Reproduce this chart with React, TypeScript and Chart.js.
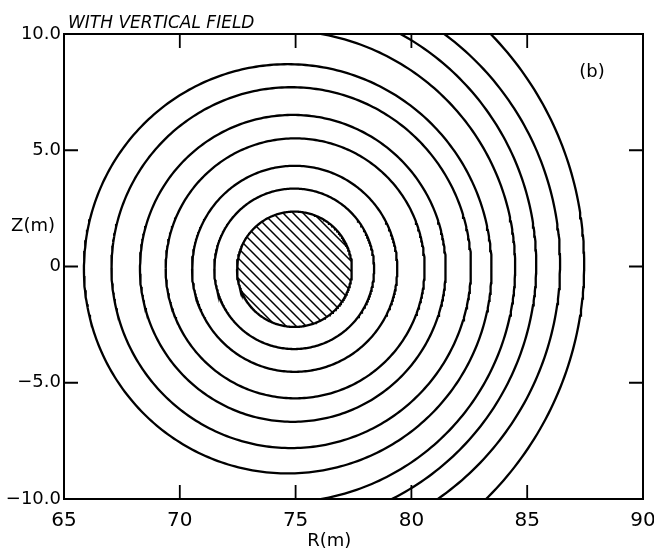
import React, { useEffect, useRef } from "react";
import { Chart, registerables } from "chart.js";

Chart.register(...registerables);

// ---- axis ticks ----
const xTickValues = [65, 70, 75, 80, 85, 90];
const xTickLabels = ["65", "70", "75", "80", "85", "90"];
const yTickValues = [-10, -5, 0, 5, 10];
const yTickLabels = ["\u221210.0", "\u22125.0", "0", "5.0", "10.0"];

// ---- conductor (hatched) ----
const conductorCenterR = 74.95;
const conductorCenterZ = -0.12;
const conductorRadius = 2.48;

// ---- flux contours: centre R, centre Z, radius, half-span of the drawn arc (deg) ----
const contourCenterR = [74.94, 74.96, 74.98, 74.88, 74.81, 74.66, 74.32, 74.09, 74.12, 73.3];
const contourCenterZ = [-0.1, -0.1, -0.08, -0.08, -0.05, -0.1, 0.0, 0.1, 0.1, 0.1];
const contourRadius = [3.45, 4.43, 5.59, 6.6, 7.76, 8.8, 10.16, 11.3, 12.3, 14.16];
const contourHalfSpan = [180, 180, 180, 180, 180, 180, 93, 95, 95, 95];

function arcPoints(cr: number, cz: number, r: number, halfSpanDeg: number) {
  const pts: { x: number; y: number }[] = [];
  const step = 1;
  for (let a = -halfSpanDeg; a <= halfSpanDeg + 1e-9; a += step) {
    const t = (a * Math.PI) / 180;
    pts.push({ x: cr + r * Math.cos(t), y: cz + r * Math.sin(t) });
  }
  return pts;
}

const FONT = '"DejaVu Sans", "Liberation Sans", sans-serif';

export default function App() {
  const canvasRef = useRef<HTMLCanvasElement | null>(null);

  useEffect(() => {
    document.body.style.margin = "0";
    const canvas = canvasRef.current;
    if (!canvas) return;
    const ctx = canvas.getContext("2d")!;

    // hatch pattern
    const pc = document.createElement("canvas");
    pc.width = 10;
    pc.height = 10;
    const p = pc.getContext("2d")!;
    p.fillStyle = "#ffffff";
    p.fillRect(0, 0, 10, 10);
    p.strokeStyle = "#000000";
    p.lineWidth = 1.5;
    p.beginPath();
    p.moveTo(-5, 5); p.lineTo(5, 15);
    p.moveTo(0, 0); p.lineTo(10, 10);
    p.moveTo(5, -5); p.lineTo(15, 5);
    p.stroke();
    const pattern = ctx.createPattern(pc, "repeat");

    const datasets: any[] = [];
    datasets.push({
      data: arcPoints(conductorCenterR, conductorCenterZ, conductorRadius, 180),
      showLine: true,
      pointRadius: 0,
      borderColor: "#000",
      borderWidth: 2.3,
      backgroundColor: pattern,
      fill: "shape",
      tension: 0,
    });
    for (let i = 0; i < contourRadius.length; i++) {
      datasets.push({
        data: arcPoints(contourCenterR[i], contourCenterZ[i], contourRadius[i], contourHalfSpan[i]),
        showLine: true,
        pointRadius: 0,
        borderColor: "#000",
        borderWidth: 2.3,
        fill: false,
        tension: 0,
      });
    }

    const framePlugin = {
      id: "frameTicksText",
      afterDraw(chart: any) {
        const c = chart.ctx as CanvasRenderingContext2D;
        const { left, right, top, bottom } = chart.chartArea;
        const xs = chart.scales.x;
        const ys = chart.scales.y;
        c.save();
        c.strokeStyle = "#000";
        c.lineWidth = 2;
        c.strokeRect(left, top, right - left, bottom - top);
        const tl = 14;
        c.lineWidth = 1.8;
        c.beginPath();
        xTickValues.forEach((v) => {
          const px = xs.getPixelForValue(v);
          c.moveTo(px, bottom); c.lineTo(px, bottom - tl);
          c.moveTo(px, top); c.lineTo(px, top + tl);
        });
        yTickValues.forEach((v) => {
          const py = ys.getPixelForValue(v);
          c.moveTo(left, py); c.lineTo(left + tl, py);
          c.moveTo(right, py); c.lineTo(right - tl, py);
        });
        c.stroke();

        c.fillStyle = "#000";
        c.textBaseline = "alphabetic";
        c.textAlign = "left";
        c.font = `italic 17px ${FONT}`;
        c.fillText("WITH VERTICAL FIELD", left + 4, top - 6);

        c.font = `18px ${FONT}`;
        c.textAlign = "center";
        c.textBaseline = "middle";
        c.fillText("(b)", xs.getPixelForValue(87.8), ys.getPixelForValue(8.37));

        c.textAlign = "right";
        c.fillText("Z(m)", left - 9, ys.getPixelForValue(1.74));

        c.textAlign = "center";
        c.fillText("R(m)", xs.getPixelForValue(76.45), bottom + 42);
        c.restore();
      },
    };

    const chart = new Chart(ctx, {
      type: "scatter",
      data: { datasets },
      options: {
        responsive: false,
        animation: false,
        events: [],
        layout: { padding: { left: 0, right: 11, top: 34, bottom: 0 } },
        plugins: {
          legend: { display: false },
          tooltip: { enabled: false },
          title: { display: false },
        },
        scales: {
          x: {
            type: "linear",
            min: 65,
            max: 90,
            afterBuildTicks: (scale: any) => {
              scale.ticks = xTickValues.map((v) => ({ value: v }));
            },
            afterFit: (scale: any) => {
              scale.height = 53;
              scale.paddingLeft = 0;
              scale.paddingRight = 0;
            },
            ticks: {
              autoSkip: false,
              maxRotation: 0,
              padding: 10,
              color: "#000",
              font: { family: FONT, size: 20 },
              callback: (v: any) => {
                const i = xTickValues.indexOf(Number(v));
                return i >= 0 ? xTickLabels[i] : "";
              },
            },
            grid: { display: false, drawTicks: false },
            border: { display: false },
          },
          y: {
            type: "linear",
            min: -10,
            max: 10,
            afterBuildTicks: (scale: any) => {
              scale.ticks = yTickValues.map((v) => ({ value: v }));
            },
            afterFit: (scale: any) => {
              scale.width = 64;
              scale.paddingTop = 0;
              scale.paddingBottom = 0;
            },
            ticks: {
              autoSkip: false,
              padding: 3,
              color: "#000",
              font: { family: FONT, size: 18 },
              callback: (v: any) => {
                const i = yTickValues.indexOf(Number(v));
                return i >= 0 ? yTickLabels[i] : "";
              },
            },
            grid: { display: false, drawTicks: false },
            border: { display: false },
          },
        },
      },
      plugins: [framePlugin],
    });

    return () => {
      chart.destroy();
    };
  }, []);

  return (
    <div style={{ width: 654, height: 552 }}>
      <canvas ref={canvasRef} width={654} height={552} style={{ display: "block" }} />
    </div>
  );
}
